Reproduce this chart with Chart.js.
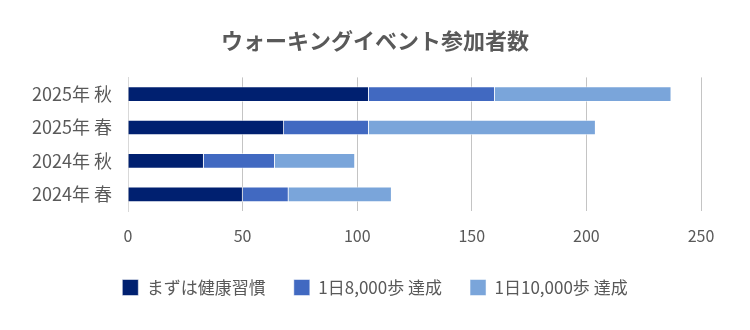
<!DOCTYPE html>
<html lang="ja">
<head>
<meta charset="utf-8">
<script src="https://cdn.jsdelivr.net/npm/chart.js@4/dist/chart.umd.min.js"></script>
<style>
  html, body { margin: 0; padding: 0; background: #fff; }
  #wrap { width: 750px; height: 330px; }
</style>
</head>
<body>
<div id="wrap"><canvas id="myChart" width="750" height="330"></canvas></div>
<script>
// data (top to bottom as shown)
const seasons = ["2025年 秋", "2025年 春", "2024年 秋", "2024年 春"];
const habitStart = [105, 68, 33, 50];
const steps8000 = [55, 37, 31, 20];
const steps10000 = [77, 99, 35, 45];
const seriesNames = ["まずは健康習慣", "1日8,000歩 達成", "1日10,000歩 達成"];
const xTicks = [0, 50, 100, 150, 200, 250];

const font = "'Noto Sans CJK JP', 'Noto Sans', sans-serif";
const textGray = "#595959";

const ctx = document.querySelector("#myChart").getContext("2d");

const data = {
  labels: seasons,
  datasets: [
    { label: seriesNames[0], data: habitStart, backgroundColor: "#002070" },
    { label: seriesNames[1], data: steps8000, backgroundColor: "#4169C1" },
    { label: seriesNames[2], data: steps10000, backgroundColor: "#7AA5DA" },
  ].map((ds) => ({
    ...ds,
    borderColor: "rgba(255,255,255,0.5)",
    borderWidth: 1,
    barThickness: 15,
  })),
};

const config = {
  type: "bar",
  data: data,
  options: {
    indexAxis: "y",
    responsive: false,
    animation: false,
    layout: { padding: { left: 0, right: 0, top: 0, bottom: 24 } },
    scales: {
      x: {
        stacked: true,
        min: xTicks[0],
        max: xTicks[xTicks.length - 1],
        ticks: { stepSize: 50, color: textGray, font: { family: font, size: 16 }, padding: 15 },
        grid: { color: "#c4c4c4", drawTicks: false },
        border: { display: false },
        afterFit: (scale) => { scale.height = 40; },
      },
      y: {
        stacked: true,
        ticks: { color: textGray, font: { family: font, size: 18 }, padding: 8 },
        grid: { display: false },
        border: { color: "#d9d9d9" },
        afterFit: (scale) => { scale.width = 128; },
      },
      // empty right-hand margin so the title and legend centre on the canvas
      yRight: {
        type: "category",
        position: "right",
        labels: seasons,
        ticks: { display: false },
        grid: { display: false },
        border: { display: false },
        afterFit: (scale) => { scale.width = 49; },
      },
    },
    plugins: {
      title: {
        display: true,
        text: "ウォーキングイベント参加者数",
        color: textGray,
        font: { family: font, size: 22, weight: "bold" },
        padding: { top: 27, bottom: 24 },
      },
      legend: {
        position: "bottom",
        align: "center",
        labels: {
          color: textGray,
          font: { family: font, size: 17 },
          boxWidth: 16,
          boxHeight: 16,
          padding: 28,
        },
      },
      tooltip: { enabled: false },
    },
  },
};

new Chart(ctx, config);
</script>
</body>
</html>
